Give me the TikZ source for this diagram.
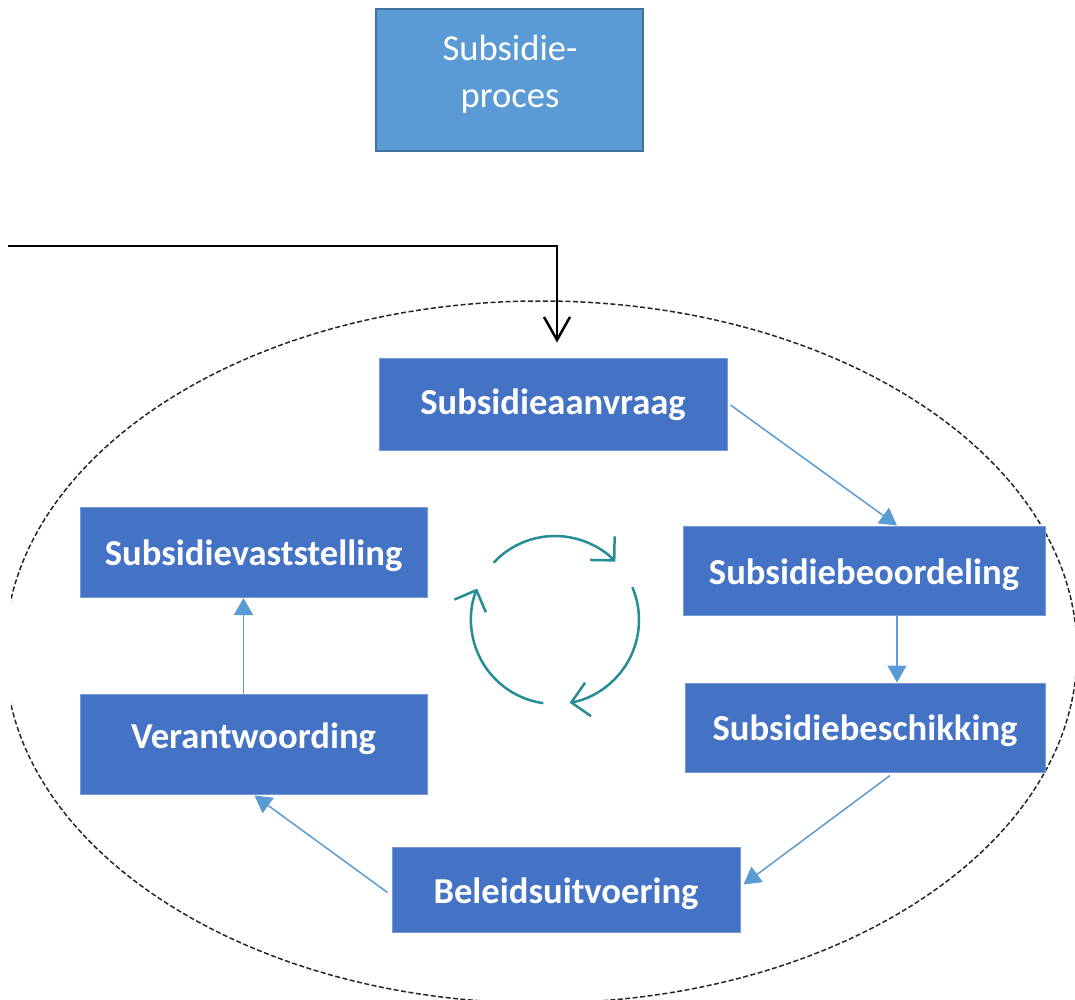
\documentclass[tikz,border=0pt]{standalone}
\usepackage{fontspec}
\setmainfont{Carlito}
\usetikzlibrary{arrows.meta,calc}
\definecolor{topfill}{HTML}{5B9BD5}
\definecolor{topedge}{HTML}{41719C}
\definecolor{boxfill}{HTML}{4472C4}
\definecolor{boxedge}{RGB}{120,155,215}
\definecolor{linkblue}{HTML}{5B9BD5}
\definecolor{cyclecol}{RGB}{38,140,150}
\tikzset{
  topbox/.style={draw=topedge, line width=2pt, fill=topfill, minimum width=267pt, minimum height=142pt, inner sep=0pt},
  toptext/.style={text=white, align=center, font=\fontsize{36.6}{47}\selectfont, inner sep=0pt},
  stepbox/.style={draw=boxedge, line width=1pt, fill=boxfill, text=white, inner sep=0pt, text depth=8pt,
    font=\bfseries\fontsize{36.6}{44}\selectfont},
  link/.style={draw=linkblue, line width=1.5pt, -{Triangle[length=17pt,width=19pt]}},
  entry/.style={draw=black, line width=2.5pt, -{Straight Barb[length=23pt,width=26pt,line width=2.5pt]}},
  cyclearrow/.style={draw=cyclecol, line width=2.5pt, -{Straight Barb[length=17pt,width=34pt,line width=2.5pt]}},
  boundary/.style={draw=black!85, line width=1.5pt, dash pattern=on 5pt off 2.5pt}
}
\begin{document}
\begin{tikzpicture}[x=1pt,y=-1pt]
\useasboundingbox (0,0) rectangle (1075,1000);
% dashed boundary ellipse
\begin{scope}
  \clip (11,0) rectangle (1075,1000);
  \draw[boundary] (541,652) ellipse [x radius=536, y radius=351];
\end{scope}
% top box
\node[topbox] (proc) at (509.5,80) {};
\node[toptext] (proclbl) at (510,74) {Subsidie-\\proces};
% step boxes
\node[stepbox, text height=28pt, minimum width=348pt, minimum height=92pt] (aanvraag) at (553,404) {Subsidieaanvraag};
\node[stepbox, text height=35pt, minimum width=362pt, minimum height=89pt] (beoordeling) at (864,570.5) {Subsidiebeoordeling};
\node[stepbox, text height=33pt, minimum width=360pt, minimum height=89pt] (beschikking) at (865,727.5) {Subsidiebeschikking};
\node[stepbox, text height=35pt, minimum width=348pt, minimum height=85pt] (beleid) at (566,889.5) {Beleidsuitvoering};
\node[stepbox, text height=17pt, minimum width=347pt, minimum height=100pt] (verantw) at (253.5,744) {Verantwoording};
\node[stepbox, text height=33pt, minimum width=347pt, minimum height=90pt] (vaststelling) at (253.5,552.5) {Subsidievaststelling};
% entry connector
\coordinate (src) at (8,246);
\draw[entry] (src) -| ($(aanvraag.north)+(4,-15)$);
% cycle links
\draw[link] ($(aanvraag.east)+(3,1)$) -- ($(beoordeling.north)+(33,0)$);
\draw[link] ($(beoordeling.south)+(33,0)$) -- ($(beschikking.north)+(32,0)$);
\draw[link] ($(beschikking.south)+(25,3)$) -- ($(beleid.east)+(3,-5)$);
\draw[link] ($(beleid.west)+(-4,3)$) -- ($(verantw.south)+(1,1)$);
\draw[link] ($(verantw.north)+(-10,0)$) -- ($(vaststelling.south)+(-10,0)$);
% cycle symbol
\begin{scope}[shift={(555,620)}, y=1pt]
  \draw[cyclearrow] (137:84) arc[start angle=137, end angle=44, radius=84];
  \draw[cyclearrow] (23:84) arc[start angle=23, end angle=-80, radius=84];
  \draw[cyclearrow] (-98:84) arc[start angle=-98, end angle=-202, radius=84];
\end{scope}
\end{tikzpicture}
\end{document}
